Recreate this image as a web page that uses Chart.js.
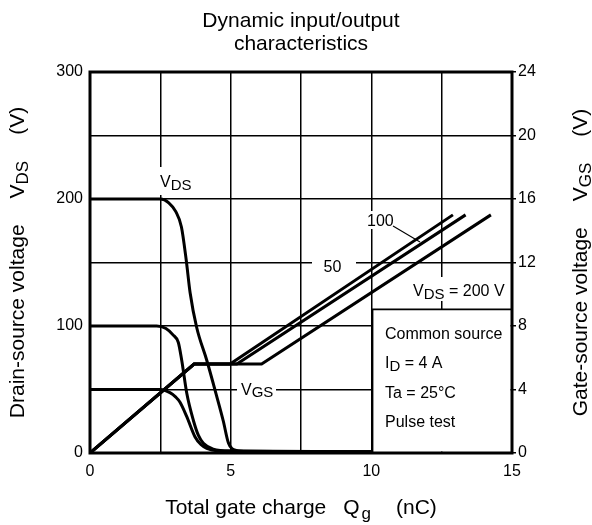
<!DOCTYPE html>
<html><head><meta charset="utf-8">
<script src="https://cdn.jsdelivr.net/npm/chart.js@4"></script>
<style>html,body{margin:0;padding:0;background:#fff}#wrap{width:592px;height:525px}</style>
</head><body><div id="wrap"><canvas id="c" width="592" height="525"></canvas></div>
<script>
// ---- data ----
const xTickLabels = [0, 5, 10, 15];          // Qg (nC)
const vdsTickLabels = [0, 100, 200, 300];    // VDS (V)
const vgsTickLabels = [0, 4, 8, 12, 16, 20, 24]; // VGS (V)

// Drain-source voltage curves (left axis)
const vds200Q = [0, 2.5, 2.8, 3.05, 3.25, 3.42, 3.56, 3.79, 4.15, 4.5, 4.74, 4.92, 5.2, 5.6, 10];
const vds200V = [200, 200, 197, 190, 178, 152, 126, 99, 73, 45, 25, 8, 2, 1.2, 1];
const vds100Q = [0, 2.37, 2.7, 2.95, 3.14, 3.26, 3.44, 3.67, 3.85, 4.03, 4.38, 5, 10];
const vds100V = [100, 100, 98, 93, 87, 73, 47, 26, 14, 7.6, 3, 1.5, 1];
const vds50Q = [0, 2.5, 2.84, 3.05, 3.2, 3.44, 3.73, 3.95, 4.15, 4.5, 10];
const vds50V = [50, 50, 47.5, 44, 40, 28.6, 12.8, 6.5, 3.7, 1.8, 1];

// Gate-source voltage curves (right axis)
const vgs50Q = [0, 3.7, 4.98, 12.9];
const vgs50V = [0, 5.6, 5.6, 15];
const vgs100Q = [0, 3.7, 5.22, 13.35];
const vgs100V = [0, 5.6, 5.6, 15];
const vgs200Q = [0, 3.7, 6.1, 14.25];
const vgs200V = [0, 5.6, 5.6, 15];

const FONT = '"Liberation Sans", Arial, Helvetica, sans-serif';
const pts = (qs, vs) => qs.map((q, i) => ({x: q, y: vs[i]}));

function drawRich(ctx, parts, x, y, align, angle) {
  ctx.save();
  ctx.translate(x, y);
  if (angle) ctx.rotate(angle);
  let w = 0;
  const ms = parts.map(p => { ctx.font = p.size + 'px ' + FONT; const m = ctx.measureText(p.t).width; w += (p.gap || 0) + m; return m; });
  let cx = align === 'center' ? -w / 2 : (align === 'right' ? -w : 0);
  ctx.textBaseline = 'alphabetic'; ctx.textAlign = 'left'; ctx.fillStyle = '#000';
  parts.forEach((p, i) => { cx += p.gap || 0; ctx.font = p.size + 'px ' + FONT; ctx.fillText(p.t, cx, p.dy || 0); cx += ms[i]; });
  ctx.restore();
}

const annot = {
  id: 'annot',
  beforeDatasetsDraw(chart) {
    const ctx = chart.ctx, ca = chart.chartArea;
    const mx = x => ca.left + (x - 90) * ca.width / 422;
    const my = y => ca.top + (y - 72) * ca.height / 381;
    const white = (x1, y1, x2, y2) => { ctx.fillStyle = '#fff'; ctx.fillRect(mx(x1), my(y1), mx(x2) - mx(x1), my(y2) - my(y1)); };
    ctx.save();
    // VDS label
    white(156, 167, 197, 195);
    drawRich(ctx, [{t: 'V', size: 16}, {t: 'DS', size: 15, dy: 2.5}], mx(160), my(187), 'left');
    // VGS label
    white(237, 380, 276, 399);
    drawRich(ctx, [{t: 'V', size: 16}, {t: 'GS', size: 15, dy: 2}], mx(241), my(395), 'left');
    // 50
    white(312, 256, 356, 274);
    drawRich(ctx, [{t: '50', size: 16}], mx(332.5), my(271.5), 'center');
    // 100 with leader
    white(366, 211, 395, 229);
    drawRich(ctx, [{t: '100', size: 16}], mx(367), my(225.5), 'left');
    ctx.strokeStyle = '#000'; ctx.lineWidth = 1.2;
    ctx.beginPath(); ctx.moveTo(mx(393), my(226)); ctx.lineTo(mx(420), my(242)); ctx.stroke();
    // VDS = 200 V
    white(405, 277, 509, 301);
    drawRich(ctx, [{t: 'V', size: 16}, {t: 'DS', size: 15, dy: 3}, {t: ' = 200 V', size: 16}], mx(413), my(296), 'left');
    // conditions box
    const bx = mx(372.5), by = my(309.3);
    ctx.fillStyle = '#fff';
    ctx.fillRect(bx, by, ca.right - bx - 1.5, ca.bottom - by - 1.5);
    ctx.strokeStyle = '#000'; ctx.lineWidth = 1.8;
    ctx.beginPath(); ctx.moveTo(bx, ca.bottom); ctx.lineTo(bx, by); ctx.lineTo(ca.right, by); ctx.stroke();
    drawRich(ctx, [{t: 'Common source', size: 16}], mx(385), my(339.3), 'left');
    drawRich(ctx, [{t: 'I', size: 16}, {t: 'D', size: 15, dy: 3}, {t: ' = 4 A', size: 16}], mx(385), my(368.3), 'left');
    drawRich(ctx, [{t: 'Ta = 25°C', size: 16}], mx(385), my(398.3), 'left');
    drawRich(ctx, [{t: 'Pulse test', size: 16}], mx(385), my(426.7), 'left');
    ctx.restore();
  },
  afterDatasetsDraw(chart) {
    const ctx = chart.ctx, ca = chart.chartArea;
    ctx.save();
    ctx.strokeStyle = '#000'; ctx.lineWidth = 3;
    ctx.strokeRect(ca.left, ca.top, ca.width, ca.height);
    ctx.restore();
  },
  afterDraw(chart) {
    const ctx = chart.ctx, ca = chart.chartArea;
    const cx = (ca.left + ca.right) / 2, cy = (ca.top + ca.bottom) / 2;
    drawRich(ctx, [{t: 'Dynamic input/output', size: 21}], cx, 27.3, 'center');
    drawRich(ctx, [{t: 'characteristics', size: 21}], cx, 50, 'center');
    drawRich(ctx, [{t: 'Total gate charge', size: 21}, {t: 'Q', size: 21, gap: 17}, {t: 'g', size: 17, dy: 5, gap: 2}, {t: '(nC)', size: 21, gap: 25}], cx, 513.5, 'center');
    drawRich(ctx, [{t: 'Drain-source voltage', size: 21}, {t: 'V', size: 21, gap: 26}, {t: 'DS', size: 17, dy: 4}, {t: '(V)', size: 21, gap: 26}], 23.5, cy, 'center', -Math.PI / 2);
    drawRich(ctx, [{t: 'Gate-source voltage', size: 21}, {t: 'V', size: 21, gap: 26}, {t: 'GS', size: 17, dy: 4}, {t: '(V)', size: 21, gap: 26}], 587, cy, 'center', -Math.PI / 2);
  }
};

const lineStyle = {showLine: true, pointRadius: 0, borderColor: '#000', borderWidth: 3, fill: false};
const tickFont = {family: FONT, size: 16};

new Chart(document.getElementById('c'), {
  type: 'scatter',
  data: {
    datasets: [
      {...lineStyle, label: 'VDS 200', data: pts(vds200Q, vds200V), yAxisID: 'y', cubicInterpolationMode: 'monotone'},
      {...lineStyle, label: 'VDS 100', data: pts(vds100Q, vds100V), yAxisID: 'y', cubicInterpolationMode: 'monotone'},
      {...lineStyle, label: 'VDS 50', data: pts(vds50Q, vds50V), yAxisID: 'y', cubicInterpolationMode: 'monotone'},
      {...lineStyle, label: 'VGS 50', data: pts(vgs50Q, vgs50V), yAxisID: 'y2', tension: 0},
      {...lineStyle, label: 'VGS 100', data: pts(vgs100Q, vgs100V), yAxisID: 'y2', tension: 0},
      {...lineStyle, label: 'VGS 200', data: pts(vgs200Q, vgs200V), yAxisID: 'y2', tension: 0}
    ]
  },
  options: {
    responsive: false,
    animation: false,
    devicePixelRatio: 1,
    layout: {padding: {top: 72, left: 0, right: 0, bottom: 0}},
    plugins: {legend: {display: false}, tooltip: {enabled: false}, title: {display: false}},
    scales: {
      x: {
        type: 'linear', min: 0, max: 15,
        ticks: {stepSize: 2.5, color: '#000', font: tickFont, padding: 9, maxRotation: 0,
          callback: v => xTickLabels.includes(v) ? String(v) : ''},
        grid: {color: '#000', lineWidth: 1.5, drawTicks: false},
        border: {display: false},
        afterFit: s => { s.height = 72; }
      },
      y: {
        type: 'linear', position: 'left', min: 0, max: 300,
        ticks: {stepSize: 50, color: '#000', font: tickFont, padding: 7,
          callback: v => vdsTickLabels.includes(v) ? String(v) : ''},
        grid: {color: '#000', lineWidth: 1.5, drawTicks: false},
        border: {display: false},
        afterFit: s => { s.width = 90; }
      },
      y2: {
        type: 'linear', position: 'right', min: 0, max: 24,
        ticks: {stepSize: 4, color: '#000', font: tickFont, padding: 2,
          callback: v => vgsTickLabels.includes(v) ? String(v) : ''},
        grid: {drawOnChartArea: false, color: '#000', lineWidth: 1.5, drawTicks: true, tickLength: 4},
        border: {display: false},
        afterFit: s => { s.width = 80; }
      }
    }
  },
  plugins: [annot]
});
</script>
</body></html>
